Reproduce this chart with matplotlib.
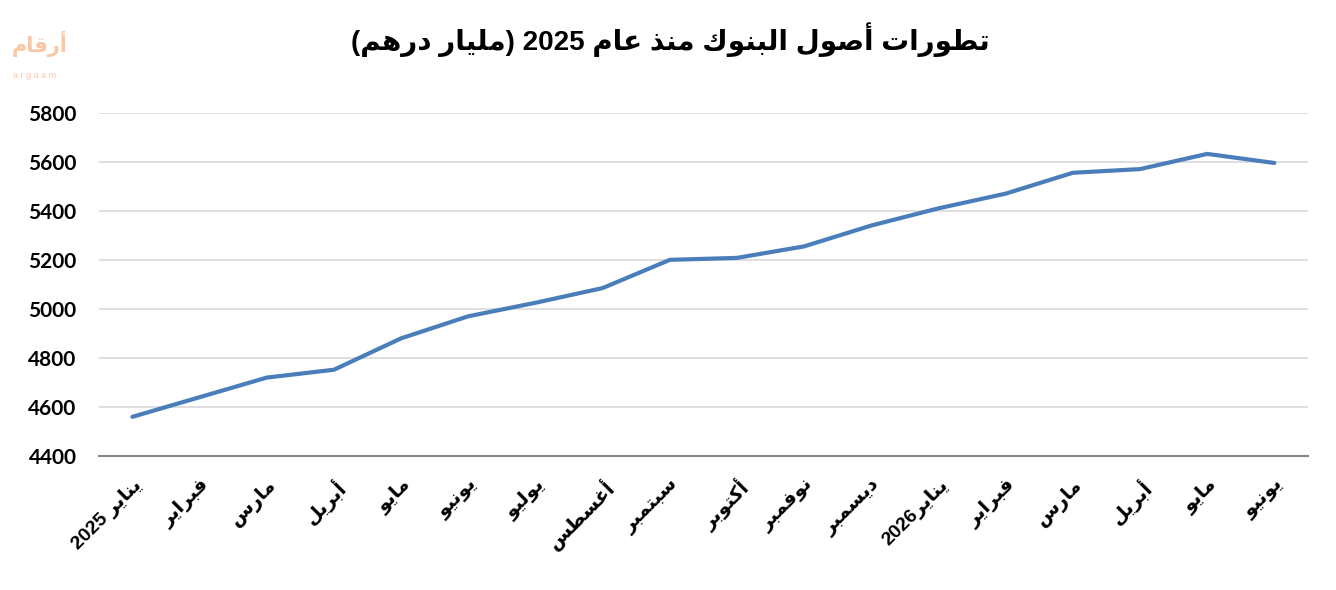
import matplotlib
matplotlib.use("Agg")
import matplotlib.pyplot as plt

# Data ---------------------------------------------------------------------------

months = ["يناير 2025", "فبراير", "مارس", "أبريل", "مايو", "يونيو", "يوليو",
          "أغسطس", "سبتمبر", "أكتوبر", "نوفمبر", "ديسمبر", "يناير2026",
          "فبراير", "مارس", "أبريل", "مايو", "يونيو"]
assets = [4560, 4640, 4720, 4752, 4880, 4970, 5025, 5085, 5200, 5208,
          5255, 5340, 5410, 5470, 5555, 5570, 5632, 5595]
y_ticks = [4400, 4600, 4800, 5000, 5200, 5400, 5600, 5800]
title = "تطورات أصول البنوك منذ عام 2025 (مليار درهم)"
logo = "أرقام"


# Arabic shaping (no bidi library available) -------------------------------------

# letter -> (isolated form codepoint, joins on both sides)
FORMS = {
    "ا": (0xFE8D, False), "أ": (0xFE83, False), "ب": (0xFE8F, True),
    "ت": (0xFE95, True), "د": (0xFEA9, False), "ذ": (0xFEAB, False),
    "ر": (0xFEAD, False), "س": (0xFEB1, True), "ص": (0xFEB9, True),
    "ط": (0xFEC1, True), "ع": (0xFEC9, True), "غ": (0xFECD, True),
    "ف": (0xFED1, True), "ق": (0xFED5, True), "ك": (0xFED9, True),
    "ل": (0xFEDD, True), "م": (0xFEE1, True), "ن": (0xFEE5, True),
    "ه": (0xFEE9, True), "و": (0xFEED, False), "ي": (0xFEF1, True),
}


def shape(text):
    out = []
    for i, ch in enumerate(text):
        if ch not in FORMS:
            out.append(ch)
            continue
        base, dual = FORMS[ch]
        prev = text[i - 1] if i > 0 else ""
        nxt = text[i + 1] if i + 1 < len(text) else ""
        joins_prev = prev in FORMS and FORMS[prev][1]
        joins_next = dual and nxt in FORMS
        if joins_prev and joins_next:
            code = base + 3
        elif joins_prev:
            code = base + 1
        elif joins_next:
            code = base + 2
        else:
            code = base
        out.append(chr(code))
    # visual order: reverse, keep digit runs left-to-right, mirror brackets
    rev = "".join(out)[::-1]
    res, run = [], ""
    for ch in rev:
        if ch.isdigit():
            run += ch
            continue
        if run:
            res.append(run[::-1])
            run = ""
        res.append({"(": ")", ")": "("}.get(ch, ch))
    if run:
        res.append(run[::-1])
    return "".join(res)


# Plot -----------------------------------------------------------------------------

fonts = ["Liberation Sans", "DejaVu Sans"]

fig = plt.figure(figsize=(13.36, 5.9), dpi=100)
ax = fig.add_axes([0.074, 0.227, 0.905, 0.582])

x = list(range(len(assets)))
ax.plot(x, assets, color="#4a7ebb", linewidth=3.0, solid_capstyle="round")

ax.set_xlim(-0.5, len(assets) - 0.5)
ax.set_ylim(4400, 5800)
ax.set_yticks(y_ticks)
ax.set_yticklabels([str(v) for v in y_ticks], fontsize=15,
                   fontweight="bold", family=["Lato", "DejaVu Sans"])
ax.yaxis.grid(True, color="#d9d9d9", linewidth=1.2)
ax.set_axisbelow(True)
ax.tick_params(axis="y", length=0, pad=16)

ax.set_xticks(x)
ax.set_xticklabels([shape(m) for m in months], rotation=45, ha="right",
                   va="top", rotation_mode="anchor", fontsize=14,
                   fontweight="bold", family=fonts)
ax.tick_params(axis="x", length=0, pad=14)

for side in ["top", "right", "left"]:
    ax.spines[side].set_visible(False)
ax.spines["bottom"].set_color("#868686")
ax.spines["bottom"].set_linewidth(1.5)

fig.text(0.502, 0.933, shape(title), ha="center", va="center", fontsize=20,
         fontweight="bold", family=fonts)

# argaam logo
fig.text(0.009, 0.925, shape(logo), ha="left", va="center", fontsize=15,
         fontweight="bold", color="#f9c7a4", family=fonts)
fig.text(0.010, 0.872, "a r g a a m", ha="left", va="center", fontsize=6.5,
         color="#f9c7a4", family=fonts)

plt.savefig("out.png", dpi=100)
